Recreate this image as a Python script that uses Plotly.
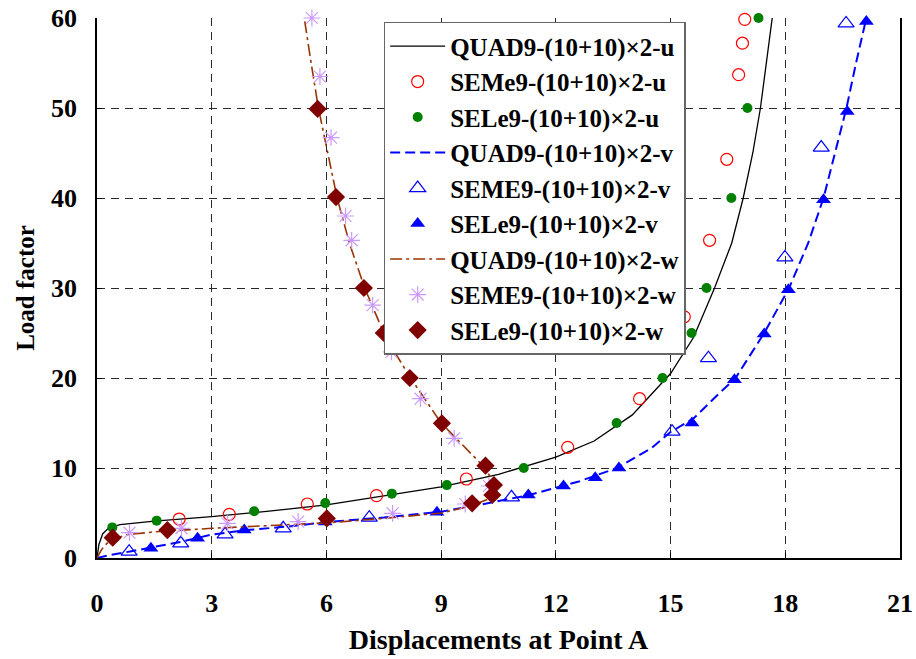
import plotly.graph_objects as go

# ---- QUAD9 reference curves ----
quad_u_x = [0, 0.05, 0.15, 0.3, 0.6, 1.5, 3, 4.5, 6, 7.5, 9, 10.5, 12, 13, 14, 15, 15.6,
            16.15, 16.6, 16.9, 17.15, 17.35, 17.5, 17.65, 17.72]
quad_u_y = [0, 1.5, 2.7, 3.3, 3.7, 4.1, 4.6, 5.2, 5.9, 6.9, 7.9, 9.3, 11.2, 13, 15.9, 20.5, 24.5,
            30, 35, 40, 45, 50, 55, 60, 62]

quad_v_x = [0, 0.3, 0.9, 1.5, 2.2, 3, 3.9, 5, 6, 7.5, 9, 10, 10.5, 11.3, 12, 12.6, 13.6, 14.5,
            15, 15.6, 16.2, 16.7, 17.45, 18.1, 18.6, 19.0, 19.3, 19.6, 19.85, 20.1, 20.2]
quad_v_y = [0, 0.3, 0.75, 1.2, 1.8, 2.6, 3.1, 3.5, 4.0, 4.5, 5.15, 5.9, 6.3, 7.0, 7.8, 8.5, 10,
            12.2, 14, 15.5, 18, 20, 25, 30, 35, 40, 45, 50, 55, 60, 61.5]

quad_w_x = [0, 0.1, 0.2, 0.4, 0.8, 1.5, 3, 4.5, 6, 7.5, 9, 9.8, 10.2, 10.4, 10.35, 10.15, 9.7,
            9.0, 8.2, 7.55, 7.0, 6.6, 6.28, 6.03, 5.79, 5.6, 5.42]
quad_w_y = [0, 0.8, 1.4, 2.1, 2.6, 2.9, 3.3, 3.6, 3.9, 4.4, 5.0, 5.8, 6.5, 7.5, 8.5, 10, 12,
            15, 20, 24.5, 30, 35, 40, 45, 50, 55, 60]

# ---- SEMe9 / SEME9 results ----
seme_u_x = [2.15, 3.46, 5.5, 7.31, 9.66, 12.31, 14.19, 15.36, 16.02, 16.47, 16.78, 16.88, 16.94]
seme_u_y = [4.33, 4.85, 6.0, 6.93, 8.78, 12.3, 17.7, 26.8, 35.3, 44.3, 53.7, 57.2, 59.85]

seme_v_x = [0.84, 2.19, 3.35, 4.87, 7.12, 10.84, 15.04, 15.99, 17.99, 18.94, 19.59]
seme_v_y = [0.7, 1.63, 2.63, 3.3, 4.48, 6.74, 14.04, 22.2, 33.4, 45.6, 59.4]

seme_w_x = [0.85, 2.21, 3.41, 5.26, 7.73, 9.63, 10.25, 9.34, 8.46, 7.7, 7.21, 6.66, 6.5,
            6.12, 5.83, 5.62]
seme_w_y = [2.81, 3.3, 3.85, 4.04, 4.96, 6.0, 8.0, 13.3, 17.7, 22.9, 28.1, 35.3, 38.0,
            46.7, 53.5, 60.0]

# ---- SELe9 results ----
sele_u_x = [0.4, 1.56, 4.11, 5.97, 7.71, 9.15, 11.16, 13.59, 14.79, 15.55, 15.94, 16.59,
            17.01, 17.30]
sele_u_y = [3.4, 4.15, 5.2, 6.1, 7.15, 8.1, 10.0, 15, 20, 25, 30, 40, 50, 60]

sele_v_x = [1.41, 2.63, 3.85, 5.97, 8.89, 11.28, 12.2, 13.03, 13.65, 15.56, 16.67, 17.45,
            18.08, 19.0, 19.62, 20.12]
sele_v_y = [1.07, 2.19, 3.1, 4.0, 5.07, 7.0, 8.0, 8.93, 10.0, 15.0, 19.8, 24.9, 29.8, 39.8,
            49.6, 59.6]

sele_w_x = [0.41, 1.84, 6.01, 9.81, 10.34, 10.38, 10.16, 9.02, 8.18, 7.5, 6.98, 6.25, 5.77, 5.39]
sele_w_y = [2.26, 3.1, 4.4, 6.07, 7.0, 8.1, 10.26, 14.96, 20, 25, 30, 40.1, 49.9, 60.1]

x_ticks = [0, 3, 6, 9, 12, 15, 18, 21]
y_ticks = [0, 10, 20, 30, 40, 50, 60]

FONT = "Liberation Serif, Times New Roman, serif"

fig = go.Figure()


def line(x, y, name, color, width, dash, group):
    fig.add_trace(go.Scatter(
        x=x, y=y, mode="lines", name=name, legendgroup=group,
        line=dict(color=color, width=width, dash=dash)))


def marks(x, y, name, symbol, color, size, group, lw=1.2):
    fig.add_trace(go.Scatter(
        x=x, y=y, mode="markers", name=name, legendgroup=group, cliponaxis=False,
        marker=dict(symbol=symbol, size=size, color=color,
                    line=dict(color=color, width=lw))))


line(quad_u_x, quad_u_y, "QUAD9-(10+10)×2-u", "#000000", 1.3, "solid", "g1")
marks(seme_u_x, seme_u_y, "SEMe9-(10+10)×2-u", "circle-open", "#FF0000", 12, "g2")
marks(sele_u_x, sele_u_y, "SELe9-(10+10)×2-u", "circle", "#008000", 10, "g3", 0)
line(quad_v_x, quad_v_y, "QUAD9-(10+10)×2-v", "#0000FF", 2, "10px,5px", "g4")
marks(seme_v_x, seme_v_y, "SEME9-(10+10)×2-v", "triangle-up-open", "#0000FF", 14, "g5")
marks(sele_v_x, sele_v_y, "SELe9-(10+10)×2-v", "triangle-up", "#0000FF", 13, "g6", 0)
line(quad_w_x, quad_w_y, "QUAD9-(10+10)×2-w", "#993300", 1.6, "12px,4px,3px,4px", "g7")
marks(seme_w_x, seme_w_y, "SEME9-(10+10)×2-w", "asterisk-open", "#CC99FF", 14, "g8")
marks(sele_w_x, sele_w_y, "SELe9-(10+10)×2-w", "diamond", "#800000", 14, "g9", 0)

axis_common = dict(
    showline=True, linecolor="#000000", linewidth=1.5,
    showgrid=True, gridcolor="#2a2a2a", gridwidth=1, griddash="8px,6px",
    zeroline=False, ticks="inside", ticklen=5, tickcolor="#000000",
    automargin=False,
    tickfont=dict(family=FONT, size=26, color="#000000", weight="bold"),
)

fig.update_xaxes(
    **axis_common, range=[0, 21], tickvals=x_ticks, mirror=False,
    ticklabelstandoff=21,
    title=dict(text="<b>Displacements at Point A</b>", standoff=12,
               font=dict(family=FONT, size=28, color="#000000")),
)
fig.update_yaxes(
    **axis_common, range=[0, 60], tickvals=y_ticks, mirror=True,
    ticklabelstandoff=13,
    title=dict(text="<b>Load factor</b>", standoff=9,
               font=dict(family=FONT, size=25, color="#000000")),
)

fig.update_layout(
    width=916, height=659,
    margin=dict(l=97, r=16, t=18, b=101, autoexpand=False),
    paper_bgcolor="#FFFFFF", plot_bgcolor="#FFFFFF",
    font=dict(family=FONT, color="#000000"),
    showlegend=True,
    legend=dict(
        x=0.357, y=0.993, xanchor="left", yanchor="top",
        bgcolor="#FFFFFF", bordercolor="#666666", borderwidth=1.5,
        font=dict(family=FONT, size=25, color="#000000", weight="bold"),
        tracegroupgap=9, itemwidth=55, traceorder="normal",
    ),
)

fig.write_html("out.html")
